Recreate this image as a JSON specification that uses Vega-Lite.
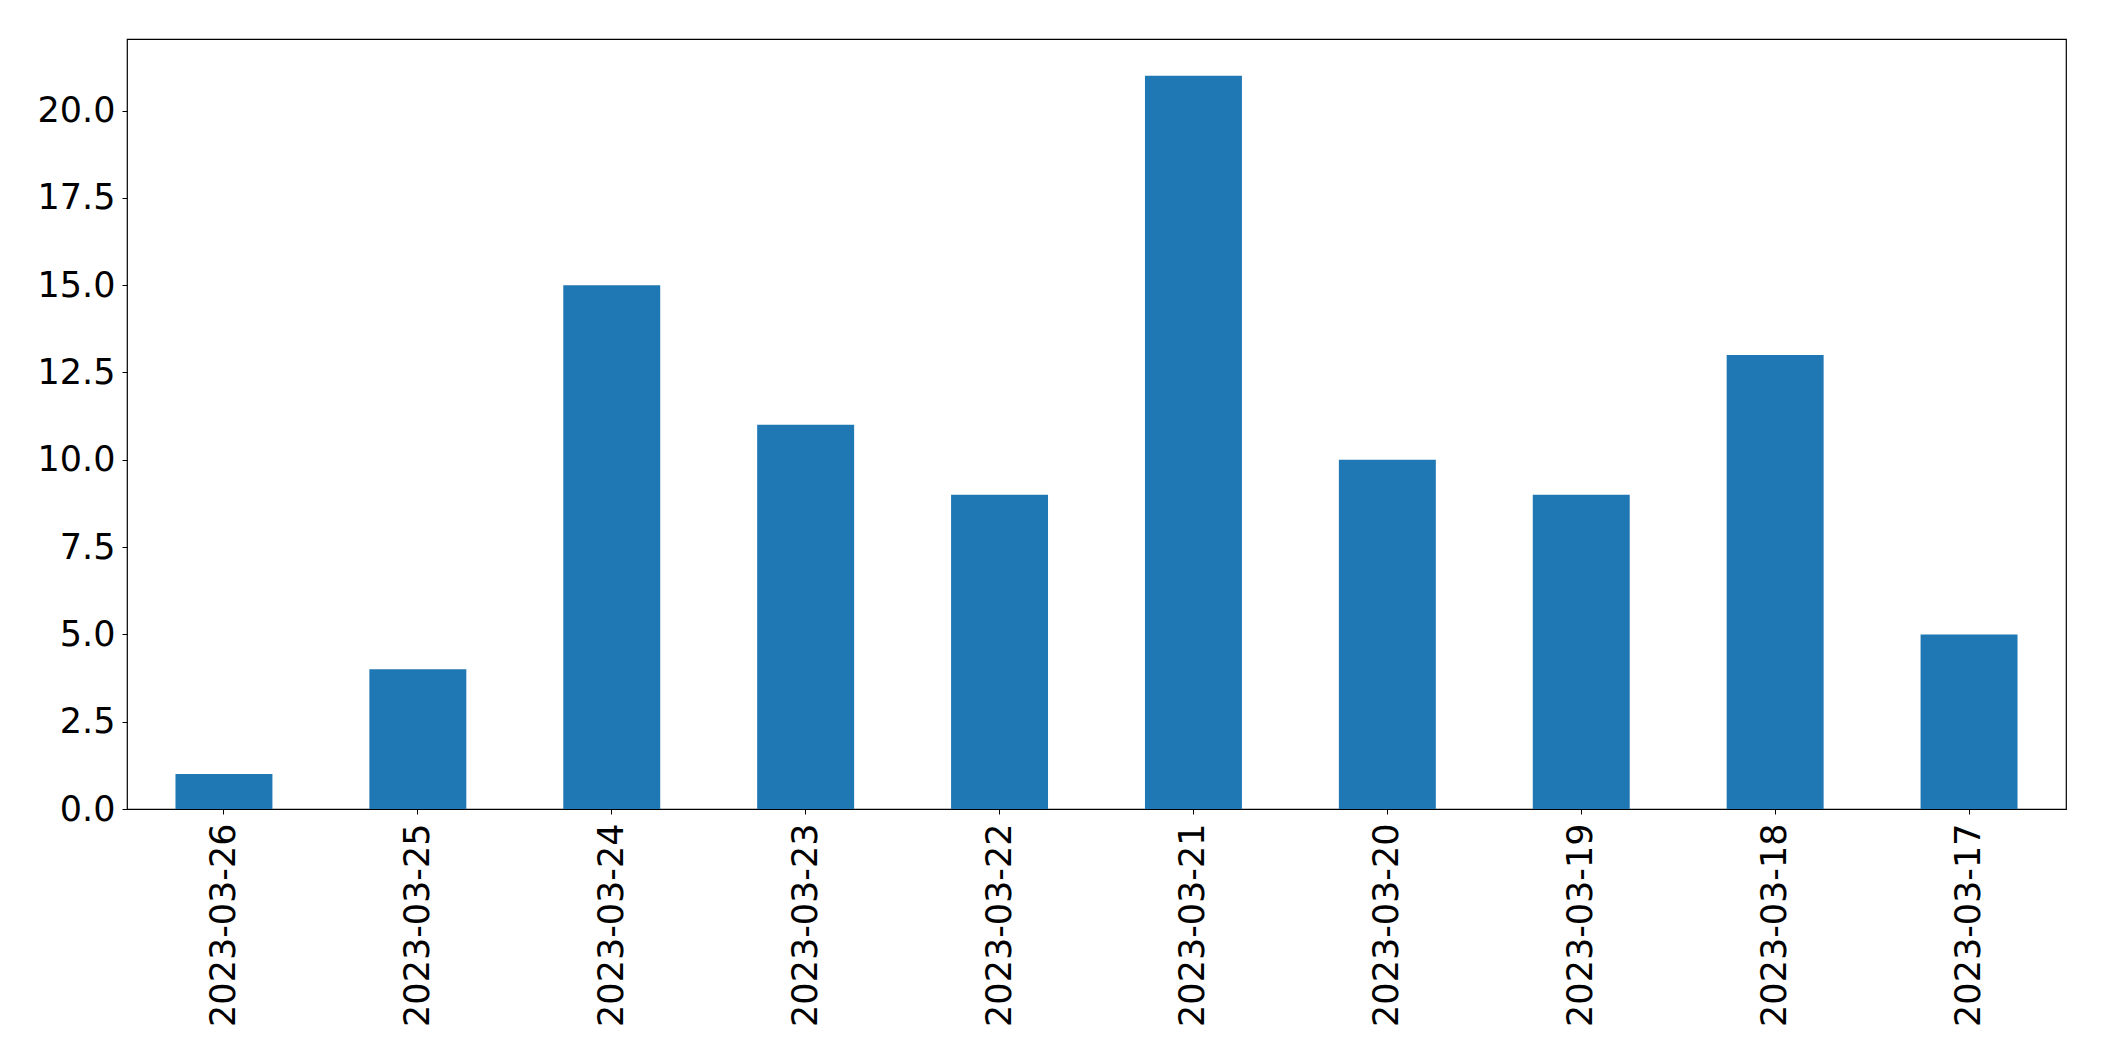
{
  "$schema": "https://vega.github.io/schema/vega-lite/v6.json",
  "autosize": "none",
  "padding": {"left": 127, "top": 39, "right": 38, "bottom": 252},
  "width": 1939,
  "height": 770,
  "background": "white",
  "data": {
    "values": [
      {"date": "2023-03-26", "count": 1},
      {"date": "2023-03-25", "count": 4},
      {"date": "2023-03-24", "count": 15},
      {"date": "2023-03-23", "count": 11},
      {"date": "2023-03-22", "count": 9},
      {"date": "2023-03-21", "count": 21},
      {"date": "2023-03-20", "count": 10},
      {"date": "2023-03-19", "count": 9},
      {"date": "2023-03-18", "count": 13},
      {"date": "2023-03-17", "count": 5}
    ]
  },
  "mark": {"type": "bar", "color": "#1f77b4"},
  "encoding": {
    "x": {
      "field": "date",
      "type": "nominal",
      "sort": null,
      "scale": {"paddingInner": 0.5, "paddingOuter": 0.25},
      "axis": {
        "title": null,
        "labelAngle": 270,
        "labelFont": "DejaVu Sans",
        "labelFontSize": 35,
        "labelColor": "black",
        "labelPadding": 9,
        "labelLimit": 0,
        "tickColor": "black",
        "tickSize": 5,
        "tickWidth": 1,
        "domain": false,
        "grid": false
      }
    },
    "y": {
      "field": "count",
      "type": "quantitative",
      "scale": {"domain": [0, 22.05], "nice": false, "zero": true},
      "axis": {
        "title": null,
        "values": [0, 2.5, 5, 7.5, 10, 12.5, 15, 17.5, 20],
        "format": ".1f",
        "labelFont": "DejaVu Sans",
        "labelFontSize": 35,
        "labelColor": "black",
        "labelPadding": 7,
        "tickColor": "black",
        "tickSize": 5,
        "tickWidth": 1,
        "domain": false,
        "grid": false
      }
    }
  },
  "config": {
    "view": {"stroke": "black", "strokeWidth": 1.2},
    "axis": {"labelFlush": false, "labelOverlap": false}
  }
}
